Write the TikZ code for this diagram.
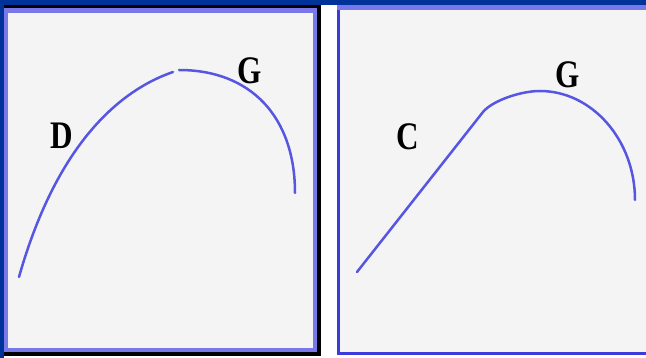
\documentclass[tikz,border=0pt]{standalone}
\usepackage{fontspec}
\setmainfont{Liberation Serif}
\definecolor{navy}{HTML}{003399}
\definecolor{peri}{HTML}{7878EA}
\definecolor{frameblue}{HTML}{3A3ADD}
\definecolor{panelgray}{HTML}{F4F4F4}
\definecolor{curveblue}{HTML}{5656E2}
\tikzset{
  curve/.style={draw=curveblue, line width=2.5pt, line cap=round, line join=round},
  lbl/.style={inner sep=0pt, font=\fontsize{39}{39}\selectfont\bfseries, xscale=0.8}
}
\begin{document}
\begin{tikzpicture}[x=1pt,y=-1pt]
\useasboundingbox (0,0) rectangle (646,358);
% background
\fill[white] (0,0) rectangle (646,358);
\fill[navy] (0,0) rectangle (646,5.5);
\fill[navy] (0,0) rectangle (4,358);
% left panel
\fill[black] (4,5.5) rectangle (320.5,356);
\fill[peri] (4,8) rectangle (317,352);
\fill[panelgray] (8,13) rectangle (313,348);
% right panel
\fill[peri] (337,5.5) rectangle (646,10.5);
\fill[frameblue] (337,10) rectangle (340,355.5);
\fill[frameblue] (337,352.5) rectangle (646,355.5);
\fill[panelgray] (340,10.5) rectangle (646,352.5);
% left curve
\coordinate (l0) at (19,277);
\coordinate (l1) at (173,72);
\coordinate (l2) at (179,70);
\coordinate (l3) at (295,193);
\draw[curve] (l0) .. controls (55,150) and (115,92) .. (l1);
\draw[curve] (l2) .. controls (251,70) and (295,117) .. (l3);
% right curve
\coordinate (rs) at (357,272);
\coordinate (rk) at (483,112);
\coordinate (rt) at (540,91);
\coordinate (re) at (635,200);
\draw[curve] (rs) -- (rk) .. controls (492,101) and (520,91) .. (rt)
  .. controls (592,91) and (635,140) .. (re);
% labels
\node[lbl] (D) at (61.5,135.5) {D};
\node[lbl] (G1) at (249.5,70.5) {G};
\node[lbl] (C) at (407.5,137) {C};
\node[lbl] (G2) at (568,75) {G};
\end{tikzpicture}
\end{document}
